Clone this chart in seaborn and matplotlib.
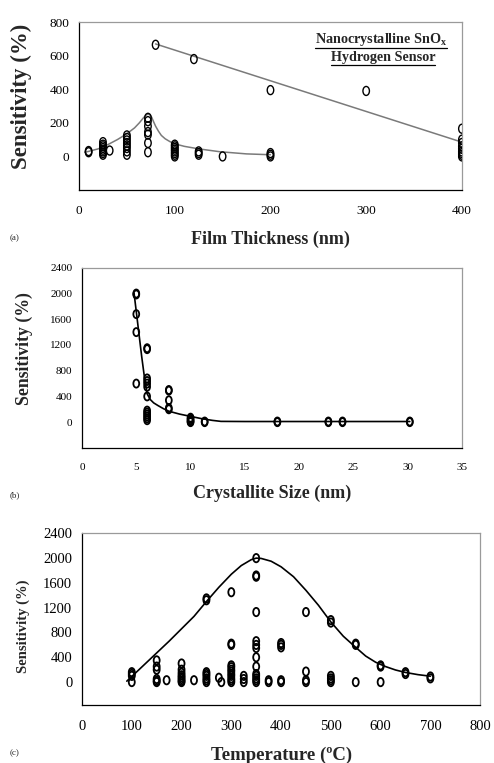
"""Nanocrystalline SnOx hydrogen sensor: sensitivity vs thickness, crystallite size, temperature."""
import matplotlib
matplotlib.use("Agg")
import matplotlib.pyplot as plt
import numpy as np
import seaborn as sns
from matplotlib.path import Path
from matplotlib.transforms import Affine2D

sns.set_theme(style="white")
plt.rcParams.update({
    "font.family": ["Liberation Serif", "DejaVu Serif"],
    "mathtext.fontset": "custom",
    "mathtext.rm": "Liberation Serif",
    "mathtext.bf": "Liberation Serif:bold",
})

# --- (a) film thickness ----------------------------------------------------- #
a_low_x = [10, 10, 25, 25, 25, 25, 25, 25, 25, 25, 32,
           50, 50, 50, 50, 50, 50, 50, 50,
           72, 72, 72, 72, 72, 72, 72,
           100, 100, 100, 100, 100, 100, 100, 100,
           125, 125, 125, 150, 200, 200, 200]
a_low_y = [25, 32, 10, 20, 30, 40, 50, 60, 70, 85, 35,
           10, 30, 50, 65, 80, 95, 110, 125,
           25, 80, 130, 145, 180, 210, 230,
           0, 10, 20, 30, 40, 50, 60, 70,
           10, 20, 30, 0, 0, 10, 20]
a_high_x = [80, 120, 200, 300, 400, 400, 400, 400, 400, 400, 400, 400, 400]
a_high_y = [665, 580, 395, 390, 165, 100, 80, 60, 45, 30, 20, 10, 0]
a_fit1_x = [6, 10, 20, 30, 40, 50, 58, 63, 67, 70, 72, 74, 76, 78, 80, 83, 86, 90, 95,
            100, 110, 125, 147, 175, 200]
a_fit1_y = [25, 30, 45, 70, 100, 135, 170, 200, 228, 246, 252, 248, 232, 205, 180, 150,
            125, 105, 88, 75, 60, 45, 28, 15, 10]
a_fit2_x = [80, 400]
a_fit2_y = [670, 85]

# --- (b) crystallite size --------------------------------------------------- #
b_x = [5, 5, 5, 5, 5,
       6, 6, 6, 6, 6, 6, 6, 6, 6, 6, 6, 6, 6,
       8, 8, 8, 8, 8,
       10, 10, 10, 10, 10,
       11.3, 11.3, 18, 18, 22.7, 22.7, 24, 24, 30.2, 30.2]
b_y = [2000, 1985, 1680, 1400, 600,
       1150, 1135, 680, 640, 600, 550, 400, 180, 150, 120, 90, 60, 30,
       500, 490, 340, 220, 200,
       70, 50, 30, 10, 0,
       0, 10, 0, 10, 0, 10, 0, 10, 0, 10]
b_fit_x = [4.8, 5.0, 5.25, 5.5, 5.75, 6.0, 6.3, 6.6, 7.0, 7.5, 8.0, 9.0, 10.0, 11.0,
           12.0, 12.8, 15, 20, 25, 30.2]
b_fit_y = [2000, 1720, 1370, 1020, 700, 440, 350, 300, 258, 210, 170, 125, 90, 55,
           28, 12, 10, 10, 10, 10]

# --- (c) temperature -------------------------------------------------------- #
c_x = ([100] * 4 + [150] * 6 + [170] + [200] * 8 + [225] + [250] * 8 + [275, 280]
       + [300] * 12 + [325] * 3 + [350] * 14 + [375] * 2 + [400] * 5 + [450] * 4
       + [500] * 6 + [550] * 3 + [600] * 3 + [650] * 2 + [700] * 2)
c_y = ([0, 100, 130, 160]
       + [0, 20, 50, 200, 250, 350]
       + [30]
       + [0, 20, 50, 80, 110, 150, 200, 300]
       + [30]
       + [0, 30, 60, 100, 130, 160, 1320, 1350]
       + [70, 0]
       + [0, 30, 60, 100, 130, 170, 200, 240, 270, 600, 620, 1450]
       + [0, 50, 100]
       + [0, 30, 60, 100, 130, 250, 400, 550, 600, 660, 1130, 1700, 1720, 2000]
       + [0, 30]
       + [0, 30, 560, 600, 630]
       + [0, 30, 170, 1130]
       + [0, 30, 60, 100, 960, 1000]
       + [0, 600, 620]
       + [0, 250, 270]
       + [130, 160]
       + [60, 90])
c_fit_x = [90, 100, 125, 150, 175, 200, 225, 250, 275, 300, 320, 340, 350, 360, 380,
           400, 425, 450, 475, 500, 525, 550, 570, 590, 610, 630, 650, 675, 700]
c_fit_y = [15, 90, 280, 470, 660, 860, 1060, 1300, 1530, 1740, 1880, 1975, 2000, 1995,
           1950, 1860, 1700, 1480, 1240, 970, 740, 560, 420, 320, 250, 195, 155, 120, 95]

# tall open "0"-like marker
OVAL = Path.unit_circle().transformed(Affine2D().scale(0.72, 1.0))

fig = plt.figure(figsize=(4.94, 7.63), dpi=100)
ax_a = fig.add_axes([0.160, 0.751, 0.775, 0.220])
ax_b = fig.add_axes([0.166, 0.413, 0.769, 0.236])
ax_c = fig.add_axes([0.166, 0.076, 0.806, 0.225])


def _style(ax, tick_fs):
    for side in ("top", "right"):
        ax.spines[side].set_color("#9a9a9a")
        ax.spines[side].set_linewidth(0.9)
    for side in ("left", "bottom"):
        ax.spines[side].set_color("black")
        ax.spines[side].set_linewidth(0.9)
    ax.tick_params(axis="both", direction="out", length=3, width=0.8,
                   labelsize=tick_fs, colors="black", pad=4)
    ax.tick_params(axis="x", pad=8)
    ax.grid(False)


def _scatter(ax, x, y, s, lw=1.2):
    sns.scatterplot(x=x, y=y, ax=ax, marker=OVAL, s=s, facecolors="none",
                    edgecolor="black", linewidth=lw, legend=False, zorder=3)


# (a)
_scatter(ax_a, a_low_x, a_low_y, 42, 1.0)
_scatter(ax_a, a_high_x, a_high_y, 42, 1.0)
sns.lineplot(x=a_fit1_x, y=a_fit1_y, ax=ax_a, color="#7a7a7a", lw=1.1, sort=False)
sns.lineplot(x=a_fit2_x, y=a_fit2_y, ax=ax_a, color="#7a7a7a", lw=1.1, sort=False)
ax_a.set_xlim(0, 400)
ax_a.set_ylim(-200, 800)
ax_a.set_xticks([0, 100, 200, 300, 400])
ax_a.set_yticks([0, 200, 400, 600, 800])
_style(ax_a, 9.5)
ax_a.set_xlabel("Film Thickness (nm)", fontsize=13, fontweight="bold")
ax_a.set_ylabel("Sensitivity (%)", fontsize=16.5, fontweight="bold")
ax_a.xaxis.set_label_coords(0.5, -0.245)
ax_a.yaxis.set_label_coords(-0.123, 0.56)
t1 = ax_a.text(0.961, 0.899, r"Nanocrystalline SnO$_{\mathbf{x}}$", transform=ax_a.transAxes,
               ha="right", va="center", fontsize=10.2, fontweight="bold")
t2 = ax_a.text(0.93, 0.79, "Hydrogen Sensor", transform=ax_a.transAxes,
               ha="right", va="center", fontsize=10.2, fontweight="bold")
fig.text(0.02, 0.688, "(a)", fontsize=6.5, va="center")

# (b)
_scatter(ax_b, b_x, b_y, 34, 1.3)
sns.lineplot(x=b_fit_x, y=b_fit_y, ax=ax_b, color="black", lw=1.2, sort=False)
ax_b.set_xlim(0, 35)
ax_b.set_ylim(-400, 2400)
ax_b.set_xticks(np.arange(0, 36, 5))
ax_b.set_yticks(np.arange(0, 2401, 400))
_style(ax_b, 8)
ax_b.set_xlabel("Crystallite Size (nm)", fontsize=13, fontweight="bold")
ax_b.set_ylabel("Sensitivity (%)", fontsize=12.8, fontweight="bold")
ax_b.xaxis.set_label_coords(0.5, -0.205)
ax_b.yaxis.set_label_coords(-0.129, 0.55)
fig.text(0.02, 0.351, "(b)", fontsize=6.5, va="center")

# (c)
_scatter(ax_c, c_x, c_y, 36, 1.3)
sns.lineplot(x=c_fit_x, y=c_fit_y, ax=ax_c, color="black", lw=1.2, sort=False)
ax_c.set_xlim(0, 800)
ax_c.set_ylim(-370, 2400)
ax_c.set_xticks(np.arange(0, 801, 100))
ax_c.set_yticks(np.arange(0, 2401, 400))
_style(ax_c, 10.5)
ax_c.set_xlabel("Temperature (ºC)", fontsize=13.5, fontweight="bold")
ax_c.set_ylabel("Sensitivity (%)", fontsize=10.5, fontweight="bold")
ax_c.xaxis.set_label_coords(0.5, -0.243)
ax_c.yaxis.set_label_coords(-0.131, 0.46)
fig.text(0.02, 0.008, "(c)", fontsize=6.5, va="bottom")

# underline the annotation text in panel (a)
fig.canvas.draw()
renderer = fig.canvas.get_renderer()
inv = fig.transFigure.inverted()
for t in (t1, t2):
    bb = t.get_window_extent(renderer)
    (x0, y0), (x1, _) = inv.transform([[bb.x0, bb.y0], [bb.x1, bb.y1]])
    fig.add_artist(plt.Line2D([x0, x1], [y0 - 0.001, y0 - 0.001], color="black",
                              lw=0.9, transform=fig.transFigure))

fig.savefig("out.png", dpi=100)
